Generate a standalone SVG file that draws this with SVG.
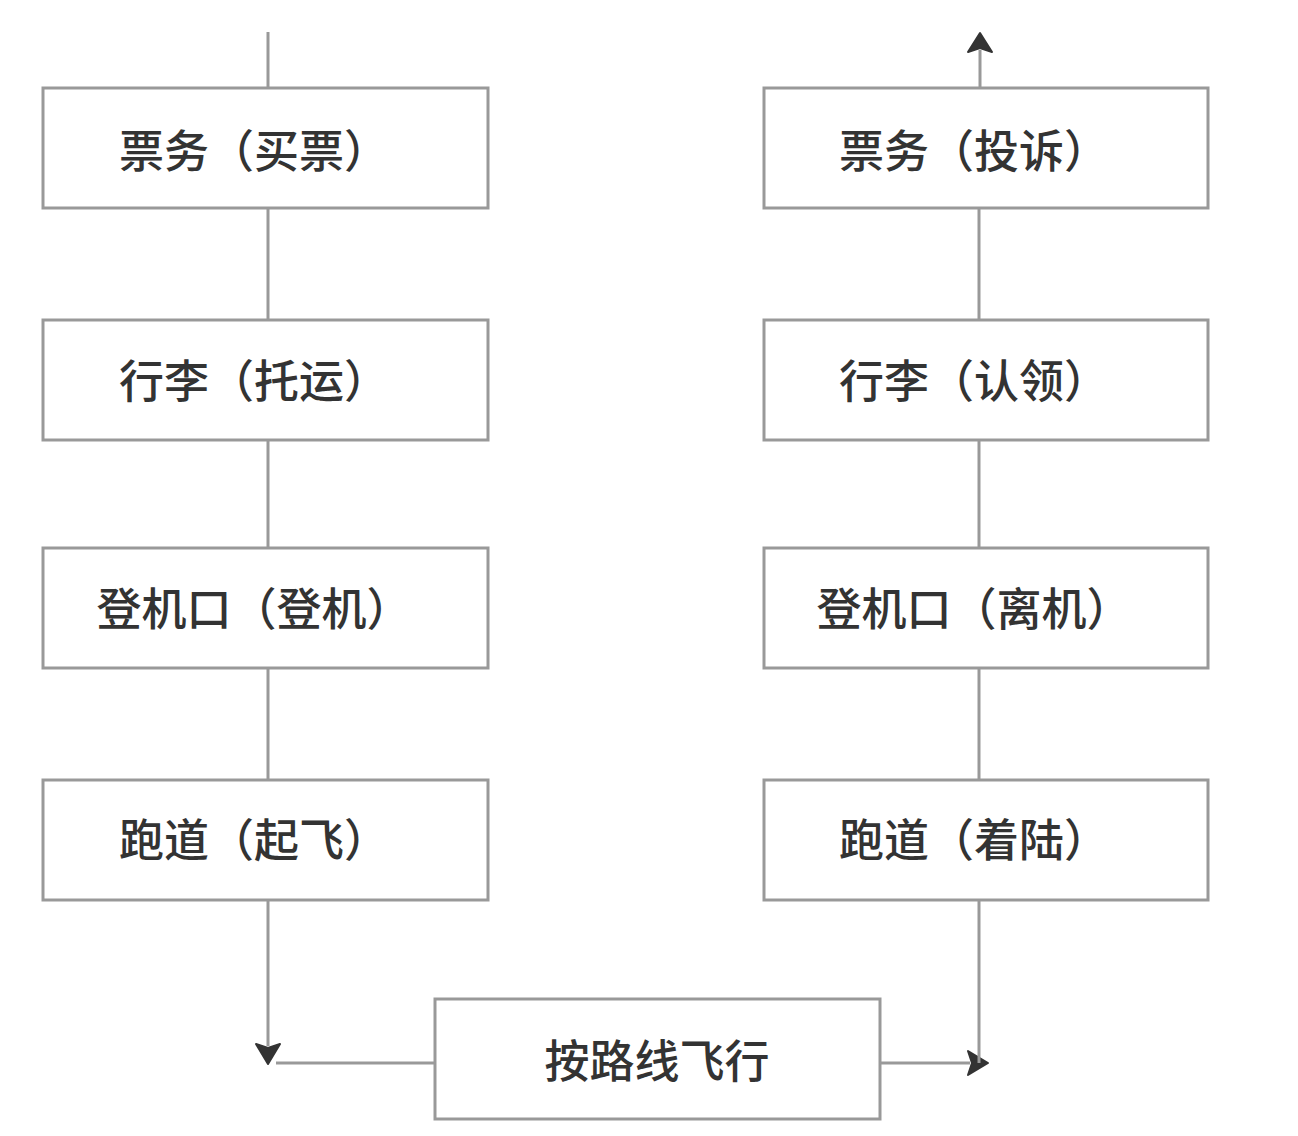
<svg xmlns="http://www.w3.org/2000/svg" width="1298" height="1136" viewBox="0 0 1298 1136">
<style>
.box{fill:#fff;stroke:#999;stroke-width:3}
.ln{fill:none;stroke:#999;stroke-width:3}
.ah{fill:#333;stroke:#333;stroke-width:2;stroke-linejoin:round}
.t{font-family:"Noto Sans CJK SC","Noto Sans",sans-serif;font-size:45px;font-weight:500;fill:#333;text-anchor:middle;dominant-baseline:central}
</style>
<rect width="1298" height="1136" fill="#fff"/>
<g id="connectors">
<line class="ln" x1="268" y1="32" x2="268" y2="88"/>
<line class="ln" x1="268" y1="208" x2="268" y2="320"/>
<line class="ln" x1="268" y1="440" x2="268" y2="548"/>
<line class="ln" x1="268" y1="668" x2="268" y2="780"/>
<line class="ln" x1="268" y1="900" x2="268" y2="1046"/>
<polygon class="ah" points="256,1044 268,1048 280,1044 268,1064"/>
<line class="ln" x1="276" y1="1063" x2="435" y2="1063"/>
<line class="ln" x1="880" y1="1063" x2="970" y2="1063"/>
<polygon class="ah" points="968,1051 972,1063 968,1075 988,1063"/>
<line class="ln" x1="979" y1="900" x2="979" y2="1063"/>
<line class="ln" x1="979" y1="780" x2="979" y2="668"/>
<line class="ln" x1="979" y1="548" x2="979" y2="440"/>
<line class="ln" x1="979" y1="320" x2="979" y2="208"/>
<line class="ln" x1="980" y1="88" x2="980" y2="50"/>
<polygon class="ah" points="968,52 980,48 992,52 980,33"/>
</g>
<g id="n1"><rect class="box" x="43" y="88" width="445" height="120"/><text class="t" x="254" y="148">票务（买票）</text></g>
<g id="n2"><rect class="box" x="43" y="320" width="445" height="120"/><text class="t" x="254" y="378">行李（托运）</text></g>
<g id="n3"><rect class="box" x="43" y="548" width="445" height="120"/><text class="t" x="254" y="606">登机口（登机）</text></g>
<g id="n4"><rect class="box" x="43" y="780" width="445" height="120"/><text class="t" x="254" y="837">跑道（起飞）</text></g>
<g id="n5"><rect class="box" x="435" y="999" width="445" height="120"/><text class="t" x="657" y="1058">按路线飞行</text></g>
<g id="n6"><rect class="box" x="764" y="780" width="444" height="120"/><text class="t" x="974" y="837">跑道（着陆）</text></g>
<g id="n7"><rect class="box" x="764" y="548" width="444" height="120"/><text class="t" x="974" y="606">登机口（离机）</text></g>
<g id="n8"><rect class="box" x="764" y="320" width="444" height="120"/><text class="t" x="974" y="378">行李（认领）</text></g>
<g id="n9"><rect class="box" x="764" y="88" width="444" height="120"/><text class="t" x="974" y="148">票务（投诉）</text></g>
</svg>
